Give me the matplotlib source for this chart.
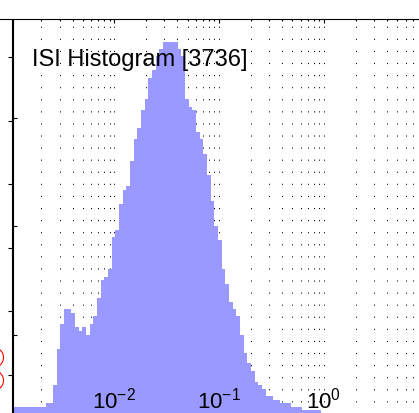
import numpy as np
import matplotlib
matplotlib.use("Agg")
import matplotlib.pyplot as plt
from matplotlib.ticker import NullFormatter, NullLocator

plt.rcParams['font.family'] = 'Liberation Sans'
plt.rcParams['mathtext.fontset'] = 'custom'
plt.rcParams['mathtext.rm'] = 'Liberation Sans'
plt.rcParams['mathtext.default'] = 'regular'
plt.rcParams['lines.scale_dashes'] = False

# ISI counts per log-spaced bin
counts = [10, 10, 10, 10, 10, 10, 10, 10, 10, 11, 11,
          16, 26, 33, 37, 37, 36, 32, 31, 32, 30,
          33, 35, 40, 45, 46, 48, 57, 59, 66, 70,
          71, 78, 84, 87, 92, 95, 101, 103, 107, 109,
          111, 111, 111, 111, 109, 107, 95, 93, 92, 86,
          84, 80, 74, 67, 60, 56, 48, 44, 39, 37,
          35, 30, 25, 22, 20, 17, 16, 15, 13, 13,
          12, 12, 11, 11, 11, 10, 10, 10, 9, 9, 9, 9, 9, 8,
          7, 6, 5, 4, 3, 2, 1]
log_first_edge = -2.9723
log_bin_width = 0.035
edges = 10 ** (log_first_edge + log_bin_width * np.arange(len(counts) + 1))

title = 'ISI Histogram [3736]'
xticks = [1e-2, 1e-1, 1e0]
xticklabels = [r'$10^{-2}$', r'$10^{-1}$', r'$10^{0}$']
yticks = [30, 60, 90]
xlim = (10 ** -2.9723, 10 ** 0.9065)

# neighbouring panel on the left (only its edge is visible)
nb_x = [0.9025, 0.9025]
nb_y = [0.28, -0.08]
nb_yticks = [0, 1, 2, 3, 4, 5]

fig = plt.figure(figsize=(4.19, 4.13), dpi=100)
pos = [12.5 / 419, -30 / 413, 406.5 / 419, 424 / 413]

nb = fig.add_axes([(12.5 - 200) / 419, -30 / 413, 200 / 419, 424 / 413])
nb.plot(nb_x, nb_y, 'o', mfc='none', mec='red', ms=14.4, mew=0.8)
nb.set_xlim(0, 1)
nb.set_ylim(-1.069, 5.597)
nb.set_xticks([])
nb.set_yticks(nb_yticks)
nb.yaxis.tick_right()
nb.tick_params(axis='y', direction='in', length=3, width=0.8, labelright=False)
nb.spines['left'].set_visible(False)
nb.spines['bottom'].set_visible(False)

ax = fig.add_axes(pos)
ax.stairs(counts, edges, fill=True, color='#9999ff', lw=0)
ax.set_xscale('log')
ax.set_xlim(xlim)
ax.set_ylim(0, 117.24)
ax.set_axisbelow(True)
ax.grid(True, which='both', axis='x', color='k', lw=0.7, linestyle=(0, (0.8, 7.9)))
ax.set_xticks(xticks)
ax.xaxis.set_major_formatter(NullFormatter())
ax.xaxis.set_minor_formatter(NullFormatter())
ax.tick_params(axis='x', which='both', direction='in', top=True, bottom=False, width=0.8)
ax.tick_params(axis='x', which='major', length=3)
ax.tick_params(axis='x', which='minor', length=1.5)
ax.set_yticks(yticks)
ax.tick_params(axis='y', direction='in', length=3, width=0.8, labelleft=False)
ax.spines['right'].set_visible(False)
ax.spines['bottom'].set_visible(False)
ax.patch.set_alpha(0)

ax.text(0.048, 0.8899, title, transform=ax.transAxes, fontsize=17, va='baseline')

# tick labels sit on top of the bars, so they go on a transparent overlay
lab = fig.add_axes(pos)
lab.set_xscale('log')
lab.set_xlim(xlim)
lab.set_ylim(0, 1)
lab.patch.set_visible(False)
for s in lab.spines.values():
    s.set_visible(False)
lab.set_xticks(xticks)
lab.set_xticklabels(xticklabels)
lab.xaxis.set_minor_locator(NullLocator())
lab.set_yticks([])
lab.tick_params(axis='x', which='both', direction='in', bottom=False, top=False,
                labelbottom=True, pad=-40, labelsize=16)

fig.savefig('out.png', dpi=100)
